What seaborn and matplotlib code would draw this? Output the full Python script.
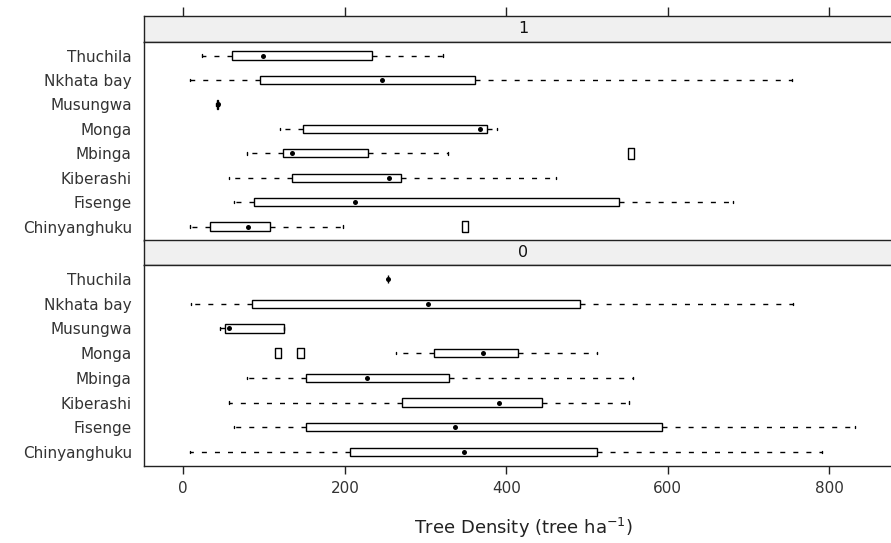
import numpy as np
import pandas as pd
import matplotlib
matplotlib.use("Agg")
import matplotlib.pyplot as plt
import seaborn as sns

# ---------------- data ----------------
sites = ["Chinyanghuku", "Fisenge", "Kiberashi", "Mbinga", "Monga",
         "Musungwa", "Nkhata bay", "Thuchila"]
panel_labels = ["1", "0"]
x_ticks = [0, 200, 400, 600, 800]

# panel "1": whisker low, lower hinge, median, upper hinge, whisker high
low_1 = [8, 63, 56, 79, 120, 41, 8, 23]
q1_1 = [33, 87, 134, 123, 148, 42, 95, 60]
med_1 = [80, 212, 255, 135, 367, 43, 246, 99]
q3_1 = [107, 539, 270, 229, 376, 43.5, 361, 234]
high_1 = [198, 681, 461, 328, 389, 44, 754, 322]
out_sites_1 = ["Chinyanghuku", "Mbinga"]
out_vals_1 = [349, 554]

# panel "0"
low_0 = [8, 63, 56, 79, 263, 46, 9, 253]
q1_0 = [206, 152, 271, 152, 310, 52, 85, 253]
med_0 = [348, 337, 391, 227, 371, 56, 303, 253]
q3_0 = [512, 593, 444, 329, 414, 125, 491, 253]
high_0 = [791, 832, 552, 557, 512, 125, 755, 253]
out_sites_0 = ["Monga", "Monga"]
out_vals_0 = [117, 145]

# ---------------- style ----------------
sns.set_style("white")
plt.rcParams["font.family"] = ["DejaVu Sans"]
plt.rcParams["axes.linewidth"] = 1.0

order = sites[::-1]  # Thuchila at top


def summary_frame(lo, q1, med, q3, hi):
    rows = []
    for s, a, b, c, d, e in zip(sites, lo, q1, med, q3, hi):
        for v in (a, b, c, d, e):
            rows.append({"site": s, "density": v})
    return pd.DataFrame(rows)


panels = [
    (summary_frame(low_1, q1_1, med_1, q3_1, high_1),
     pd.DataFrame({"site": sites, "density": med_1}),
     pd.DataFrame({"site": out_sites_1, "density": out_vals_1})),
    (summary_frame(low_0, q1_0, med_0, q3_0, high_0),
     pd.DataFrame({"site": sites, "density": med_0}),
     pd.DataFrame({"site": out_sites_0, "density": out_vals_0})),
]

W, H = 891, 543
fig = plt.figure(figsize=(W / 100, H / 100), dpi=100)
fig.patch.set_facecolor("white")

left_px, right_px = 144.3, 901.7
xlim = (-48.3, 889.6)


def fax(top, bottom):
    return fig.add_axes([left_px / W, 1 - bottom / H,
                         (right_px - left_px) / W, (bottom - top) / H])


strip_boxes = [(16, 41.7), (240.5, 265)]
panel_boxes = [(41.7, 240.5), (265, 466)]

rect_marker = [(-0.3, -0.5), (0.3, -0.5), (0.3, 0.5), (-0.3, 0.5), (-0.3, -0.5)]
dash = (0, (3.6, 5.8))

for i, (label, (box_df, med_df, out_df)) in enumerate(zip(panel_labels, panels)):
    sax = fax(*strip_boxes[i])
    sax.set_facecolor("#f0f0f0")
    sax.set_xlim(*xlim)
    sax.set_yticks([])
    sax.text(0.5, 0.5, label, transform=sax.transAxes, ha="center",
             va="center", fontsize=11.5, color="#111111")
    for sp in sax.spines.values():
        sp.set_color("#222222")
    if i == 0:
        sax.set_xticks(x_ticks)
        sax.tick_params(axis="x", top=True, bottom=False, labeltop=False,
                        labelbottom=False, length=6.5, width=1,
                        direction="out", color="#222222")
    else:
        sax.set_xticks([])

    ax = fax(*panel_boxes[i])
    sns.boxplot(data=box_df, x="density", y="site", order=order, orient="h",
                whis=(0, 100), width=0.34, showfliers=False, color="white",
                linecolor="black", linewidth=1.0, fill=True,
                medianprops={"visible": False},
                whiskerprops={"linestyle": dash, "linewidth": 1.0},
                capprops={"linewidth": 1.0},
                capwidths=0.1, ax=ax)
    sns.stripplot(data=med_df, x="density", y="site", order=order,
                  orient="h", jitter=False, color="black", size=3.6,
                  linewidth=0, ax=ax, zorder=5)
    n_before = len(ax.collections)
    sns.stripplot(data=out_df, x="density", y="site", order=order,
                  orient="h", jitter=False, color="black", size=7.5,
                  marker=rect_marker, linewidth=1.0, ax=ax, zorder=5)
    for coll in ax.collections[n_before:]:
        coll.set_facecolor("none")
        coll.set_edgecolor("black")

    ax.set_xlim(*xlim)
    ax.set_ylim(7.57, -0.57)
    ax.set_ylabel("")
    ax.tick_params(axis="y", length=0, pad=9, labelsize=11,
                   labelcolor="#333333")
    for sp in ax.spines.values():
        sp.set_color("#222222")
    if i == 1:
        ax.set_xticks(x_ticks)
        ax.tick_params(axis="x", bottom=True, length=6, width=1,
                       direction="out", pad=5, labelsize=11,
                       labelcolor="#333333", color="#222222")
        ax.set_xlabel("Tree Density (tree ha$^{-1}$)", fontsize=13,
                      color="#222222")
        ax.xaxis.set_label_coords(0.5, -0.308)
        ax.xaxis.label.set_va("center")
    else:
        ax.set_xticks(x_ticks)
        ax.tick_params(axis="x", bottom=False, labelbottom=False)
        ax.set_xlabel("")

fig.savefig("out.png", dpi=100)
